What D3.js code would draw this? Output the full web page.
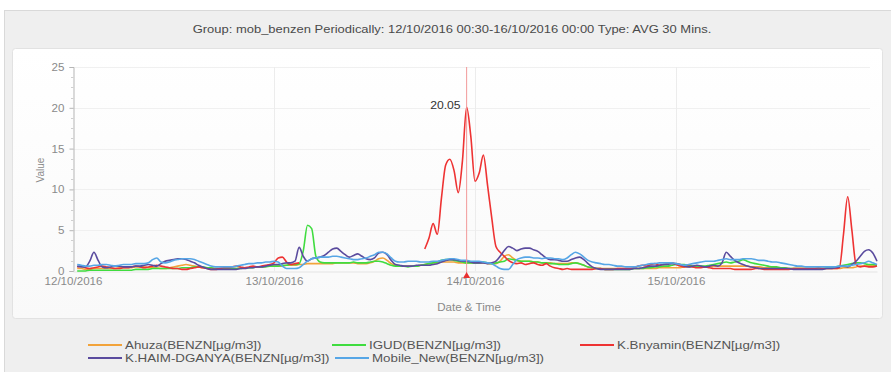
<!DOCTYPE html>
<html>
<head>
<meta charset="utf-8">
<script src="https://cdn.jsdelivr.net/npm/d3@7"></script>
<style>
  html, body { margin: 0; padding: 0; background: #ffffff; }
  svg { display: block; font-family: "Liberation Sans", Arial, sans-serif; }
</style>
</head>
<body>
<svg id="chart" width="891" height="372"></svg>
<script>
// Benzene readings, 30-minute averages, 12/10/2016 00:30 – 16/10/2016 00:00 (192 samples)
const seriesNames = [
  "Ahuza(BENZN[µg/m3])",
  "IGUD(BENZN[µg/m3])",
  "K.Bnyamin(BENZN[µg/m3])",
  "K.HAIM-DGANYA(BENZN[µg/m3])",
  "Mobile_New(BENZN[µg/m3])"
];
const seriesColors = ["#f2a33a", "#3fdc3f", "#ee3333", "#5a4b9e", "#56a6e6"];

const ahuza = [
  0.3,0.3,0.2,0.2,0.3,0.3,0.3,0.3,0.3,0.3,0.4,0.4,
  0.4,0.4,0.5,0.5,0.5,0.4,0.4,0.4,0.3,0.3,0.4,0.5,
  0.6,0.7,0.8,0.7,0.6,0.5,0.4,0.4,0.4,0.3,0.3,0.3,
  0.3,0.3,0.3,0.4,0.4,0.4,0.5,0.5,0.5,0.6,0.6,0.6,
  0.6,0.6,0.7,0.7,0.7,0.8,0.8,0.9,0.9,0.9,0.9,0.9,
  0.9,0.9,1.0,1.0,1.0,1.0,1.0,0.9,0.9,0.9,1.0,1.2,
  1.5,1.6,1.3,0.9,0.7,0.6,0.6,0.6,0.6,0.6,0.7,0.8,
  0.9,1.0,1.0,1.1,1.1,1.1,1.1,1.0,1.0,1.0,1.0,1.0,
  1.0,1.0,0.9,0.9,0.9,1.2,1.8,2.0,1.6,1.3,1.2,1.2,
  1.2,1.1,1.1,1.0,1.0,1.0,0.9,0.9,0.9,0.9,1.0,1.0,
  0.9,0.7,0.5,0.4,0.3,0.3,0.3,0.3,0.3,0.3,0.3,0.3,
  0.3,0.3,0.3,0.3,0.3,0.3,0.3,0.4,0.4,0.4,0.4,0.4,
  0.4,0.5,0.5,0.5,0.5,0.5,0.5,0.5,0.6,0.6,0.6,0.6,
  0.6,0.6,0.6,0.6,0.6,0.5,0.5,0.5,0.4,0.4,0.4,0.4,
  0.4,0.4,0.3,0.3,0.3,0.3,0.3,0.3,0.3,0.3,0.3,0.3,
  0.3,0.3,0.3,0.4,0.4,0.4,0.5,0.6,0.6,0.7,0.7,0.7
];

const igud = [
  0.0,0.0,0.0,0.1,0.1,0.1,0.1,0.1,0.1,0.1,0.1,0.1,
  0.1,0.1,0.2,0.2,0.2,0.2,0.3,0.3,0.3,0.3,0.3,0.3,
  0.3,0.4,0.4,0.4,0.5,0.5,0.5,0.4,0.4,0.3,0.3,0.3,
  0.3,0.3,0.3,0.3,0.4,0.4,0.4,0.5,0.5,0.5,0.6,0.6,
  0.6,0.7,0.7,0.8,0.8,0.9,2.5,5.6,5.2,1.8,1.1,1.0,
  1.0,1.0,1.0,1.0,1.0,1.0,1.1,1.0,1.0,1.0,1.1,1.2,
  1.2,1.1,0.9,0.7,0.6,0.6,0.6,0.5,0.6,0.6,0.7,0.8,
  0.9,1.0,1.1,1.3,1.4,1.4,1.3,1.2,1.1,1.0,1.0,1.0,
  1.0,1.1,1.0,0.9,1.0,1.1,1.2,1.5,1.4,1.3,1.2,1.2,
  1.2,1.1,1.1,1.0,1.0,0.9,0.9,0.8,0.8,0.8,0.9,1.0,
  0.9,0.7,0.5,0.4,0.3,0.3,0.2,0.2,0.2,0.2,0.2,0.2,
  0.2,0.3,0.3,0.3,0.4,0.4,0.5,0.5,0.6,0.6,0.7,0.8,
  0.8,0.8,0.7,0.6,0.6,0.6,0.6,0.7,0.8,0.9,1.0,1.1,
  1.0,1.1,1.2,1.4,1.2,1.0,0.9,0.8,0.7,0.6,0.5,0.5,
  0.4,0.4,0.3,0.3,0.3,0.3,0.3,0.3,0.3,0.3,0.3,0.4,
  0.4,0.5,0.6,0.7,0.8,0.9,1.0,1.0,0.9,0.8,0.8,0.7
];

// null = no reading from the station
const kBnyamin = [
  0.5,0.6,0.4,0.3,0.4,0.5,0.6,0.5,0.4,0.3,0.3,0.4,
  0.4,0.5,0.6,0.5,0.4,0.5,0.6,0.7,0.6,0.5,0.4,0.3,
  0.3,0.2,0.2,0.3,0.4,0.5,0.4,0.3,0.2,0.2,0.3,0.4,
  0.4,0.5,0.6,0.5,0.4,0.5,0.6,0.5,0.6,0.7,0.8,1.0,
  1.6,1.7,1.1,0.8,0.9,1.0,null,null,null,null,null,null,
  null,null,null,null,null,null,null,null,null,null,null,null,
  null,null,null,null,null,null,null,null,null,null,null,2.7,
  4.0,5.8,4.5,9.0,13.0,13.7,12.3,9.6,13.5,20.05,16.5,11.0,
  12.0,14.2,10.5,6.5,3.0,2.3,1.8,1.3,1.0,0.9,1.0,0.8,
  0.9,1.0,0.8,0.7,0.9,0.6,0.4,0.3,0.2,0.3,0.2,0.2,
  0.2,0.2,0.2,0.2,0.3,0.3,0.2,0.2,0.2,0.3,0.3,0.3,
  0.3,0.4,0.6,0.7,0.6,0.8,0.9,0.7,0.8,0.9,1.0,0.8,
  0.6,0.5,0.6,0.5,0.4,0.4,0.5,0.4,0.3,0.3,0.3,0.3,
  0.3,0.2,0.2,0.2,0.2,0.2,0.3,0.3,0.2,0.2,0.2,0.2,
  0.2,0.2,0.2,0.3,0.3,0.3,0.3,0.3,0.3,0.4,0.3,0.3,
  0.3,0.3,0.4,4.5,9.1,5.0,0.8,0.5,0.6,0.5,0.5,0.6
];

const kHaim = [
  0.6,0.5,0.5,1.2,2.3,1.3,0.5,0.4,0.5,0.6,0.6,0.5,
  0.5,0.5,0.6,0.6,0.7,0.8,0.7,0.6,0.9,1.2,1.3,1.4,
  1.5,1.5,1.4,1.2,1.0,0.7,0.5,0.3,0.2,0.2,0.2,0.2,
  0.2,0.2,0.2,0.3,0.3,0.4,0.4,0.5,0.5,0.6,0.7,0.8,
  0.8,0.9,1.0,1.0,1.2,2.9,1.8,1.2,1.5,1.6,1.7,1.9,
  2.3,2.7,2.8,2.4,2.0,1.7,1.9,2.1,1.8,1.5,1.4,1.6,
  2.2,2.3,2.0,1.3,0.8,0.7,0.6,0.6,0.6,0.7,0.7,0.7,
  0.7,0.8,0.9,1.1,1.3,1.4,1.4,1.3,1.2,1.2,1.1,1.0,
  1.0,1.0,0.9,1.0,1.2,1.8,2.5,3.0,2.8,2.5,2.7,2.8,
  2.8,2.6,2.4,2.0,1.6,1.4,1.4,1.3,1.2,1.2,1.4,1.6,
  1.7,1.4,0.9,0.5,0.3,0.2,0.2,0.2,0.2,0.2,0.2,0.2,
  0.2,0.3,0.3,0.4,0.5,0.6,0.6,0.7,0.8,0.8,0.9,0.9,
  0.8,0.6,0.5,0.6,0.7,0.6,0.5,0.6,0.7,0.6,1.0,2.3,
  1.8,1.3,1.0,0.8,0.6,0.5,0.4,0.3,0.3,0.3,0.3,0.3,
  0.3,0.3,0.3,0.2,0.2,0.2,0.2,0.2,0.2,0.2,0.2,0.3,
  0.3,0.4,0.5,0.6,0.5,0.8,1.2,1.8,2.4,2.6,2.2,1.2
];

const mobileNew = [
  0.8,0.7,0.6,0.6,0.7,0.7,0.8,0.8,0.7,0.6,0.7,0.8,
  0.8,0.8,0.9,0.9,0.9,1.0,1.4,1.6,1.1,1.0,1.1,1.3,
  1.4,1.5,1.5,1.5,1.4,1.2,1.0,0.8,0.6,0.5,0.5,0.5,
  0.5,0.5,0.6,0.7,0.8,0.9,0.9,1.0,1.0,1.1,1.1,1.2,
  1.1,0.6,0.3,0.3,0.3,0.4,0.8,1.2,1.5,1.6,1.7,1.7,
  1.7,1.8,1.8,1.7,1.6,1.5,1.4,1.4,1.5,1.6,1.8,2.0,
  2.3,2.3,2.1,1.6,1.2,1.1,1.1,1.2,1.2,1.2,1.1,1.1,
  1.1,1.2,1.2,1.3,1.4,1.5,1.5,1.4,1.3,1.3,1.2,1.2,
  1.2,1.1,1.0,0.9,0.6,0.3,0.2,0.2,0.8,1.4,1.6,1.7,
  1.7,1.6,1.6,1.5,1.6,1.6,1.5,1.5,1.4,1.6,2.0,2.3,
  2.1,1.7,1.3,1.1,1.0,0.9,0.8,0.8,0.7,0.6,0.6,0.5,
  0.5,0.5,0.6,0.7,0.8,0.9,0.9,1.0,1.0,1.0,1.0,0.9,
  0.8,0.7,0.8,0.9,1.0,1.1,1.2,1.2,1.2,1.3,1.4,1.5,
  1.4,1.4,1.4,1.5,1.5,1.5,1.4,1.3,1.3,1.2,1.1,1.1,
  1.0,0.9,0.8,0.7,0.6,0.6,0.5,0.5,0.5,0.5,0.5,0.5,
  0.5,0.5,0.6,0.6,0.6,0.7,0.8,0.9,1.0,1.2,1.0,0.8
];

const seriesValues = [ahuza, igud, kBnyamin, kHaim, mobileNew];

const yTicks = [0, 5, 10, 15, 20, 25];
const xTickDates = ["2016-10-12", "2016-10-13", "2016-10-14", "2016-10-15"];
const titleText = "Group: mob_benzen Periodically: 12/10/2016 00:30-16/10/2016 00:00  Type: AVG 30 Mins.";
const xAxisTitle = "Date & Time";
const yAxisTitle = "Value";
// highlighted reading (hover point)
const focusSeries = 2;
const focusIndex = 93;

// the chart's typeface is drawn slightly wide
const STRETCH = 1.16;

const svg = d3.select("#chart");
const parseDay = d3.timeParse("%Y-%m-%d");
const start = new Date(2016, 9, 12, 0, 0);
const end = new Date(2016, 9, 16, 0, 0);
const timeAt = i => d3.timeMinute.offset(start, 30 * (i + 1));

const x = d3.scaleTime().domain([start, end]).range([73, 877]);
const y = d3.scaleLinear().domain([0, 25]).range([271, 67]);

// place a horizontally stretched label
function label(parent, tx, ty, str, size, fill, anchor) {
  return parent.append("text")
    .attr("transform", `translate(${tx},${ty}) scale(${STRETCH},1)`)
    .attr("text-anchor", anchor || "start")
    .attr("font-size", size).attr("fill", fill).text(str);
}

// outer panel
svg.append("rect").attr("x", 4.5).attr("y", 10.5).attr("width", 900).attr("height", 380)
  .attr("fill", "#efefef").attr("stroke", "#d9d9d9");
label(svg, 452, 33, titleText, 11.2, "#4a4a4a", "middle");

// inner chart card
const grad = svg.append("defs").append("linearGradient").attr("id", "card")
  .attr("x1", 0).attr("y1", 0).attr("x2", 0).attr("y2", 1);
grad.append("stop").attr("offset", "0%").attr("stop-color", "#ffffff");
grad.append("stop").attr("offset", "100%").attr("stop-color", "#f9f9f9");
svg.append("rect").attr("x", 12.5).attr("y", 48.5).attr("width", 870).attr("height", 270)
  .attr("rx", 3).attr("fill", "url(#card)").attr("stroke", "#e2e2e2");

// grid
const grid = svg.append("g");
grid.selectAll("line.h").data(yTicks.slice(1)).join("line")
  .attr("x1", 73).attr("x2", 870)
  .attr("y1", d => Math.round(y(d)) + 0.5).attr("y2", d => Math.round(y(d)) + 0.5)
  .attr("stroke", "#f0f0f0");
grid.selectAll("line.v").data(xTickDates.slice(1).map(parseDay)).join("line")
  .attr("x1", d => Math.round(x(d)) + 0.5).attr("x2", d => Math.round(x(d)) + 0.5)
  .attr("y1", 67).attr("y2", 271)
  .attr("stroke", "#ececec");

// y axis
const yAxis = d3.axisLeft(y).tickValues(yTicks).tickSize(4).tickFormat("");
const gy = svg.append("g").attr("transform", "translate(73.5,0)").call(yAxis);
gy.select(".domain").attr("stroke", "#b5b5b5");
gy.selectAll(".tick line").attr("stroke", "#b5b5b5");
gy.selectAll(".tick").each(function (d) {
  label(d3.select(this), -9, 3.5, d, 10, "#8a8a8a", "end");
});
const minor = d3.range(0, 25.01, 1.25).filter(v => v % 5 !== 0);
svg.append("g").selectAll("line").data(minor).join("line")
  .attr("x1", 71).attr("x2", 73.5)
  .attr("y1", d => Math.round(y(d)) + 0.5).attr("y2", d => Math.round(y(d)) + 0.5)
  .attr("stroke", "#cfcfcf");

// x axis
const fmtDay = d3.timeFormat("%d/%m/%Y");
const xAxis = d3.axisBottom(x).tickValues(xTickDates.map(parseDay))
  .tickFormat("").tickSize(0);
const gx = svg.append("g").attr("transform", "translate(0,271.5)").call(xAxis);
gx.select(".domain").attr("stroke", "#e4e4e4");
gx.selectAll(".tick").each(function (d) {
  label(d3.select(this), 0, 13, fmtDay(d), 10, "#8a8a8a", "middle");
});

label(svg, 469, 311, xAxisTitle, 10, "#8a8a8a", "middle");
svg.append("text").attr("transform", "translate(44,170) rotate(-90)")
  .attr("text-anchor", "middle").attr("font-size", 10).attr("fill", "#8a8a8a").text(yAxisTitle);

// series lines
const line = d3.line()
  .defined(d => d.v !== null)
  .x(d => x(d.t)).y(d => y(d.v))
  .curve(d3.curveMonotoneX);
const lines = svg.append("g").attr("fill", "none").attr("stroke-width", 1.6)
  .attr("stroke-linejoin", "round");
seriesValues.forEach((vals, k) => {
  lines.append("path")
    .datum(vals.map((v, i) => ({ t: timeAt(i), v })))
    .attr("stroke", seriesColors[k])
    .attr("d", line);
});

// focus marker on the highest K.Bnyamin reading
const fx = x(timeAt(focusIndex));
const fv = seriesValues[focusSeries][focusIndex];
svg.append("line").attr("x1", fx).attr("x2", fx).attr("y1", 67).attr("y2", 273)
  .attr("stroke", "#f29a9a").attr("stroke-width", 1);
svg.append("path").attr("d", d3.symbol(d3.symbolTriangle, 22)())
  .attr("transform", `translate(${fx},276)`).attr("fill", "#e83030");
label(svg, fx - 6, y(fv) + 2, d3.format(".2f")(fv), 10.5, "#333", "end");

// legend
const legendPos = [[88, 345], [332, 345], [580, 345], [88, 358], [335, 358]];
const lg = svg.append("g");
seriesNames.forEach((name, k) => {
  const [lx, ly] = legendPos[k];
  lg.append("line").attr("x1", lx).attr("x2", lx + 34).attr("y1", ly).attr("y2", ly)
    .attr("stroke", seriesColors[k]).attr("stroke-width", 2);
  label(lg, lx + 37, ly + 4, name, 11.5, "#555", "start");
});
</script>
</body>
</html>
